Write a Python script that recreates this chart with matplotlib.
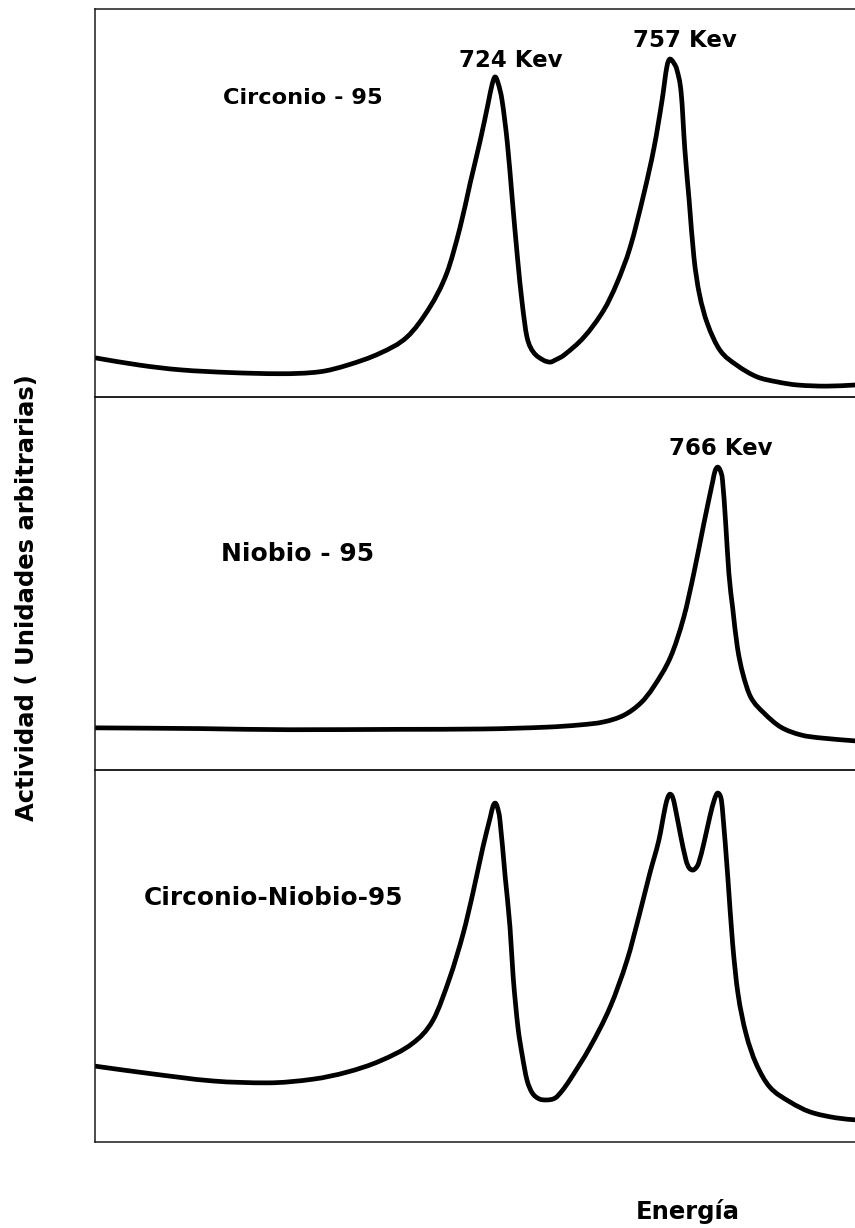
import matplotlib
matplotlib.use("Agg")
import matplotlib.pyplot as plt
from matplotlib.path import Path
from matplotlib.patches import PathPatch
import numpy as np

plt.rcParams["font.family"] = ["DejaVu Sans"]

# Gamma spectra (energy in keV, activity in arbitrary units, 0-100 per panel)
zr_energy = [648.5, 657.0, 664.6, 674.0, 683.4, 690.9, 696.1, 702.3, 707.4, 711.7,
             714.9, 717.4, 719.3, 721.2, 722.7, 723.4, 724.0, 724.6, 725.3, 726.3,
             727.2, 728.2, 729.1, 730.0, 731.2, 733.1, 734.4, 735.3, 737.0, 740.8,
             744.5, 747.0, 749.5, 752.1, 754.0, 755.5, 756.4, 757.0, 757.7, 758.3,
             759.1, 759.8, 760.6, 761.5, 762.5, 764.0, 766.4, 769.6, 773.4, 777.2,
             781.0, 786.6, 792.0]
zr_activity = [10.1, 8.2, 7.0, 6.3, 6.0, 6.5, 8.2, 11.3, 15.5, 23.2,
               32.0, 43.8, 55.2, 66.2, 75.8, 80.4, 82.5, 80.7, 76.5, 65.5,
               51.5, 36.1, 24.2, 15.5, 11.6, 9.5, 9.0, 9.5, 10.8, 15.5,
               22.4, 29.4, 38.7, 52.6, 64.4, 76.5, 85.1, 87.1, 86.1, 84.3,
               78.4, 63.7, 50.8, 36.1, 26.8, 19.1, 12.1, 8.2, 5.2, 3.9,
               3.1, 2.8, 3.1]

nb_energy = [648.6, 668.4, 685.2, 706.2, 721.8, 733.9, 740.1, 744.5, 748.3, 751.5,
             753.9, 757.1, 759.6, 761.5, 763.4, 765.1, 765.5, 766.0, 766.5, 766.9,
             767.5, 768.1, 768.8, 769.7, 770.7, 772.2, 774.7, 777.9, 781.7, 785.4,
             792.0]
nb_activity = [11.3, 11.1, 10.8, 10.9, 11.0, 11.5, 12.1, 12.9, 14.7, 18.0,
               22.3, 30.3, 41.0, 52.8, 66.2, 77.7, 80.2, 81.2, 80.2, 77.7,
               66.2, 52.8, 43.7, 33.0, 26.0, 19.6, 15.3, 11.5, 9.4, 8.6,
               7.8]

zrnb_energy = [648.5, 658.3, 670.8, 681.0, 689.7, 696.1, 702.3, 708.5, 712.3, 715.5,
               718.0, 719.8, 721.7, 723.1, 723.6, 724.0, 724.4, 724.9, 725.9, 726.8,
               727.4, 728.3, 729.1, 730.0, 731.0, 732.3, 733.6, 735.3, 736.6, 738.1,
               741.9, 745.7, 748.9, 751.3, 753.2, 754.9, 756.1, 756.6, 757.0, 757.4,
               757.8, 758.9, 760.0, 760.6, 761.3, 761.9, 762.4, 763.4, 764.5, 765.4,
               766.0, 766.6, 766.9, 767.9, 768.8, 769.8, 771.3, 773.2, 775.8, 779.6,
               783.4, 788.3, 792.4]
zrnb_activity = [20.4, 18.5, 16.4, 15.9, 16.9, 18.8, 21.8, 26.6, 32.8, 44.4,
                 56.2, 66.9, 79.3, 87.4, 90.3, 91.1, 90.1, 86.6, 71.2, 57.8,
                 44.4, 30.9, 23.4, 16.7, 13.2, 11.6, 11.3, 11.8, 13.7, 16.7,
                 25.5, 36.3, 48.9, 61.6, 72.3, 81.2, 90.1, 92.7, 93.5, 93.0,
                 91.1, 83.1, 75.8, 73.7, 73.1, 73.7, 75.0, 80.4, 87.4, 92.2,
                 93.8, 92.5, 89.2, 71.2, 53.5, 40.1, 29.3, 21.2, 14.8, 10.8,
                 8.1, 6.5, 5.9]

panel_names = ["Circonio - 95", "Niobio - 95", "Circonio-Niobio-95"]
panel_peaks = [[724, 757], [766], []]
y_label = "Actividad ( Unidades arbitrarias)"
x_label = "Energía"

series = [(zr_energy, zr_activity), (nb_energy, nb_activity), (zrnb_energy, zrnb_activity)]


def smooth_path(x, y):
    """Cubic Hermite curve through the points (central-difference tangents,
    flat at local extrema, limited to avoid overshoot), as Bezier segments."""
    x = np.asarray(x, float)
    y = np.asarray(y, float)
    h = np.diff(x)
    d = np.diff(y) / h
    m = np.zeros_like(y)
    m[0], m[-1] = d[0], d[-1]
    for k in range(1, len(x) - 1):
        if d[k - 1] * d[k] > 0:
            c = (y[k + 1] - y[k - 1]) / (x[k + 1] - x[k - 1])
            lim = 3 * min(abs(d[k - 1]), abs(d[k]))
            m[k] = np.sign(c) * min(abs(c), lim)
    verts = [(x[0], y[0])]
    codes = [Path.MOVETO]
    for k in range(len(x) - 1):
        verts += [(x[k] + h[k] / 3, y[k] + m[k] * h[k] / 3),
                  (x[k + 1] - h[k] / 3, y[k + 1] - m[k + 1] * h[k] / 3),
                  (x[k + 1], y[k + 1])]
        codes += [Path.CURVE4] * 3
    return Path(verts, codes)


W, H = 855, 1228
fig = plt.figure(figsize=(W / 100, H / 100), dpi=100)

left_px, right_px = 95, 855
panel_px = [(9, 397), (397, 770), (770, 1142)]
name_pos = [(303, 104, 16.2), (298, 561, 18), (273, 905, 17.8)]
peak_offsets = {724: (16, 10), 757: (15, 12), 766: (3, 12)}

for i, (top, bot) in enumerate(panel_px):
    ax = fig.add_axes([left_px / W, 1 - bot / H, (right_px - left_px) / W, (bot - top) / H])
    ax.set_xlim(648.5, 791.9)
    ax.set_ylim(0, 100)
    ax.set_xticks([])
    ax.set_yticks([])
    ax.set_facecolor("none")
    ax.spines["right"].set_visible(False)
    for s in ("left", "top", "bottom"):
        ax.spines[s].set_linewidth(1.1)
        ax.spines[s].set_color("#1a1a1a")

    e, a = np.array(series[i][0]), np.array(series[i][1])
    ax.add_patch(PathPatch(smooth_path(e, a), fill=False, edgecolor="black",
                           lw=3.4, joinstyle="round", capstyle="round"))

    for pk in panel_peaks[i]:
        j = int(np.argmin(np.abs(e - pk)))
        dx, dy = peak_offsets[pk]
        ax.annotate(f"{pk} Kev", xy=(e[j], a[j]), xytext=(dx, dy),
                    textcoords="offset pixels", ha="center", va="baseline",
                    fontsize=16.5, fontweight="bold", annotation_clip=False)

    nx, ny, fs = name_pos[i]
    fig.text(nx / W, 1 - ny / H, panel_names[i], ha="center", va="baseline",
             fontsize=fs, fontweight="bold")

fig.text(27 / W, 1 - 598 / H, y_label, rotation=90, ha="center", va="center",
         fontsize=17.5, fontweight="bold")
fig.text(688 / W, 1 - 1219 / H, x_label, ha="center", va="baseline",
         fontsize=17.5, fontweight="bold")

fig.savefig("out.png", dpi=100, facecolor="white")
